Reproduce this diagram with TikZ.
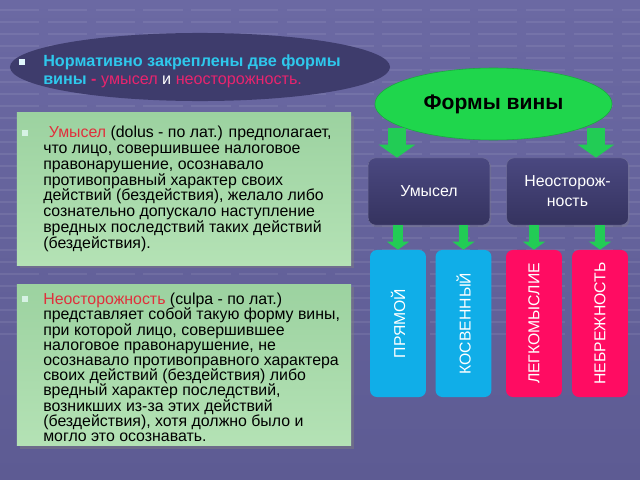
\documentclass[tikz,border=0pt]{standalone}
\usepackage{fontspec}
\setmainfont{Liberation Sans}
\usetikzlibrary{shapes.geometric, arrows.meta, shadows}

\definecolor{bgtop}{HTML}{6B69A3}
\definecolor{bgbot}{HTML}{5D5B93}
\definecolor{headfill}{HTML}{3E3C6C}
\definecolor{cyantext}{HTML}{2EC8EC}
\definecolor{pinktext}{HTML}{E8246E}
\definecolor{redtext}{HTML}{E0303C}
\definecolor{boxtop}{HTML}{9CD2A0}
\definecolor{boxbot}{HTML}{B4E2B5}
\definecolor{ellgreen}{HTML}{1FD64C}
\definecolor{arrowgreen}{HTML}{22CC55}
\definecolor{darktop}{HTML}{4A4880}
\definecolor{darkbot}{HTML}{35335F}
\definecolor{bluefill}{HTML}{10AEE8}
\definecolor{pinkfill}{HTML}{FF0C62}
\definecolor{bulletc}{HTML}{D6F2E4}

\newcommand\tightlines{\lineskiplimit=-6pt\relax}

\begin{document}
\begin{tikzpicture}[x=0.025cm, y=-0.025cm,
   gridline/.style={draw=white, opacity=0.08, line width=1.2pt, dash pattern=on 28pt off 6pt},
   greenbox/.style={top color=boxtop, bottom color=boxbot, minimum width=237.6pt,
      drop shadow={opacity=0.45, shadow xshift=2pt, shadow yshift=-2pt}},
   bodytext/.style={anchor=north west, inner sep=0pt, align=left},
   bulletmark/.style={fill=bulletc, minimum size=3.6pt, inner sep=0pt},
   darkbox/.style={rounded corners=5pt, top color=darktop, bottom color=darkbot, draw=darktop!80!white,
      line width=0.4pt, minimum width=86.5pt, minimum height=47.7pt,
      text=white, align=center, font=\fontsize{11.3}{14.2}\selectfont,
      drop shadow={opacity=0.3, shadow xshift=1pt, shadow yshift=-1.5pt}},
   kindbox/.style={rounded corners=5pt, rotate=90, minimum width=104.6pt, minimum height=39.8pt,
      inner sep=0pt, text=white, font=\fontsize{11.2}{12}\selectfont},
   bigarrow/.style={draw=arrowgreen, line width=12.8pt, -{Triangle[width=25.6pt, length=9.3pt]}},
   smallarrow/.style={draw=arrowgreen, line width=7.1pt, -{Triangle[width=15.6pt, length=5.7pt]}}]

  \useasboundingbox (0,0) rectangle (640,480);
  \fill[top color=bgtop, bottom color=bgbot] (0,0) rectangle (640,480);
  \foreach \yy in {10,22,...,340}
    \draw[gridline] (0,\yy) -- (640,\yy);

  % header
  \node [ellipse, fill=headfill, minimum width=270.3pt, minimum height=48.4pt, inner sep=0pt] (head) at (200,67) {};
  \node [bulletmark, fill=white!85!cyantext] (headbul) at (22,62) {};
  \node [bodytext, font=\fontsize{11.5}{12.1}\selectfont\bfseries, text=cyantext] (headtxt) at (43,55)
    {Нормативно закреплены две формы\\
     вины {\color{pinktext}-} {\mdseries\color{pinktext}умысел} {\mdseries\color{white}и} {\mdseries\color{pinktext}неосторожность.}};

  % text boxes
  \node [greenbox, minimum height=108.1pt] (umyselbox) at (184,189) {};
  \node [bulletmark] (umyselbul) at (25,133) {};
  \node [bodytext, font=\fontsize{11.3}{11.2}\selectfont\tightlines] (umyseltxt) at (43,126)
    {\hspace{4pt}{\color{redtext}Умысел} (dolus - по лат.) предполагает,\\
     что лицо, совершившее налоговое\\
     правонарушение, осознавало\\
     противоправный характер своих\\
     действий (бездействия), желало либо\\
     сознательно допускало наступление\\
     вредных последствий таких действий\\
     (бездействия).};

  \node [greenbox, minimum height=115.2pt] (neostbox) at (184,365) {};
  \node [bulletmark] (neostbul) at (25,299) {};
  \node [bodytext, font=\fontsize{11.3}{10.8}\selectfont\tightlines] (neosttxt) at (43,293)
    {{\color{redtext}Неосторожность} (culpa - по лат.)\\
     представляет собой такую форму вины,\\
     при которой лицо, совершившее\\
     налоговое правонарушение, не\\
     осознавало противоправного характера\\
     своих действий (бездействия) либо\\
     вредный характер последствий,\\
     возникших из-за этих действий\\
     (бездействия), хотя должно было и\\
     могло это осознавать.};

  % scheme
  \coordinate (f1) at (397,128);
  \coordinate (f2) at (596,128);
  \node [darkbox] (umysel) at (429,191.5) {Умысел};
  \node [darkbox] (neost) at (567.5,191.5) {Неосторож-\\ность};

  \node [kindbox, fill=bluefill] (pryamoi) at (398,323.5) {ПРЯМОЙ};
  \node [kindbox, fill=bluefill] (kosv) at (463.5,323.5) {КОСВЕННЫЙ};
  \node [kindbox, fill=pinkfill] (legk) at (534,323.5) {ЛЕГКОМЫСЛИЕ};
  \node [kindbox, fill=pinkfill] (nebr) at (600,323.5) {НЕБРЕЖНОСТЬ};

  \foreach \from in {f1, f2}
    \draw[bigarrow] (\from) -- (\from |- umysel.north);

  \foreach \from/\to in {umysel/pryamoi, umysel/kosv, neost/legk, neost/nebr}
    \draw[smallarrow] (\to.east |- \from.south) -- (\to.east);

  \node [ellipse, fill=ellgreen, draw=ellgreen!80!black, line width=0.4pt, minimum width=168.6pt,
     minimum height=51.2pt, inner sep=0pt, font=\fontsize{15}{16}\selectfont\bfseries] (formy) at (493.5,104) {Формы вины};

\end{tikzpicture}
\end{document}
